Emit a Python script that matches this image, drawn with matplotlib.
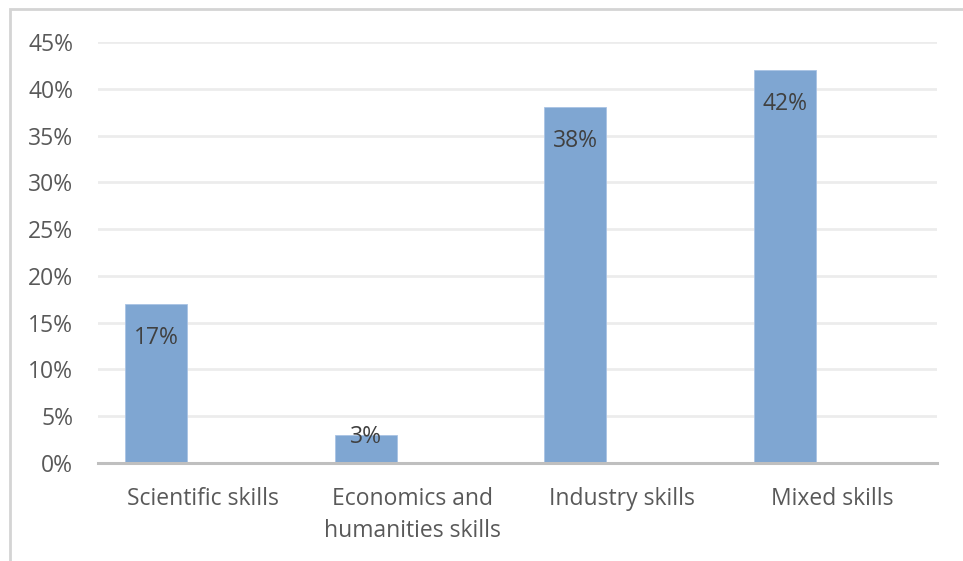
import matplotlib
matplotlib.use("Agg")
import matplotlib.pyplot as plt
from matplotlib.patches import Rectangle

categories = ["Scientific skills", "Economics and\nhumanities skills", "Industry skills", "Mixed skills"]
shares = [17, 3, 38, 42]
y_ticks = [0, 5, 10, 15, 20, 25, 30, 35, 40, 45]

W, H = 963, 561
fig = plt.figure(figsize=(W / 100, H / 100), dpi=100)
plt.rcParams["font.family"] = ["Open Sans", "DejaVu Sans"]

ax = fig.add_axes([98 / W, (H - 463) / H, (937 - 98) / W, (463 - 42) / H])

bar_color = "#7fa6d2"
offset = -0.224
width = 0.296
xs = [i + offset for i in range(len(categories))]
ax.bar(xs, shares, width=width, color=bar_color, edgecolor="#a9c3e4", linewidth=0.6, zorder=3)

px_per_unit = (463 - 42) / 45
for x, v in zip(xs, shares):
    bar_px = v * px_per_unit
    shift = -34 if bar_px > 45 else -2
    ax.annotate(f"{v}%", xy=(x, v), xytext=(0, shift * 0.72), textcoords="offset points",
                ha="center", va="center", fontsize=16.5, color="#404040", zorder=4)

ax.set_xlim(-0.5, len(categories) - 0.5)
ax.set_ylim(0, 45)
ax.set_yticks(y_ticks)
ax.set_yticklabels([f"{t}%" for t in y_ticks])
ax.set_xticks(range(len(categories)))
ax.set_xticklabels(categories, linespacing=1.45)

ax.yaxis.grid(True, color="#ececec", linewidth=2)
ax.set_axisbelow(True)
for s in ["top", "right", "left"]:
    ax.spines[s].set_visible(False)
ax.spines["bottom"].set_color("#bfbfbf")
ax.spines["bottom"].set_linewidth(2.2)
ax.spines["bottom"].set_zorder(5)

ax.tick_params(axis="both", length=0, labelsize=16.5, labelcolor="#595959")
ax.tick_params(axis="y", pad=18)
ax.tick_params(axis="x", pad=17.5)

# outer chart frame (left and top edges visible)
fig.add_artist(Rectangle((10 / W, -0.01), 1.0, 1 - 9 / H + 0.01, transform=fig.transFigure,
                         fill=False, edgecolor="#d4d4d4", linewidth=2))

fig.savefig("out.png", dpi=100, facecolor="white")
